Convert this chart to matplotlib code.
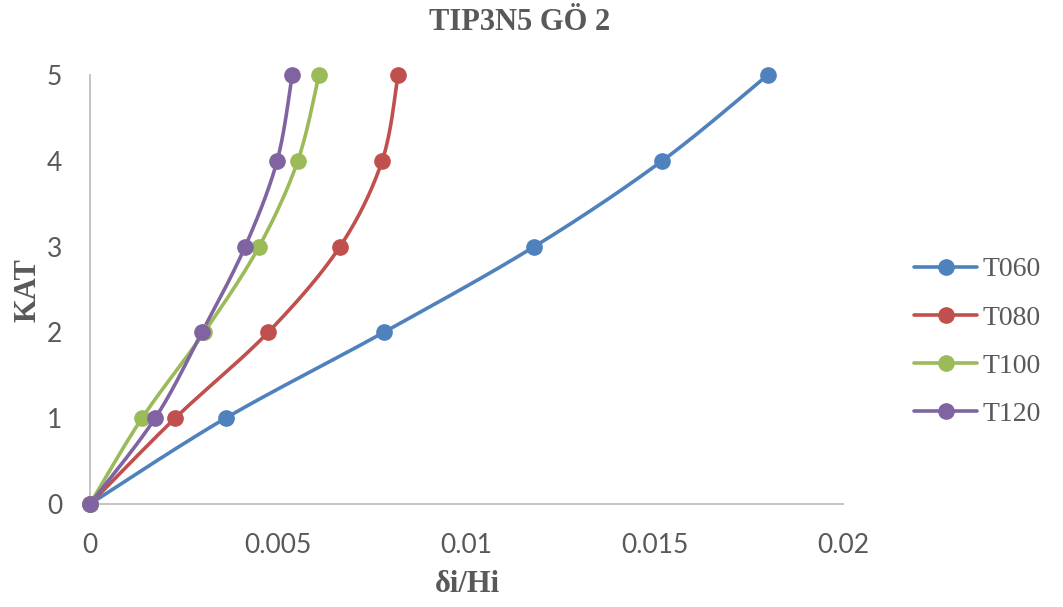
import numpy as np
import matplotlib
matplotlib.use("Agg")
import matplotlib.pyplot as plt
from matplotlib.lines import Line2D

# data
floors = [0, 1, 2, 3, 4, 5]
t060 = [0, 0.0036, 0.0078, 0.0118, 0.0152, 0.0180]
t080 = [0, 0.00226, 0.00473, 0.00664, 0.00776, 0.00818]
t100 = [0, 0.00138, 0.00303, 0.00449, 0.00552, 0.00608]
t120 = [0, 0.00173, 0.00297, 0.00412, 0.00497, 0.00537]
names = ["T060", "T080", "T100", "T120"]
colors = ["#4F81BD", "#C0504D", "#9BBB59", "#8064A2"]

txt_col = "#595959"
serif = ["Liberation Serif", "DejaVu Serif"]


# smooth curve through points like Excel's smoothed line (Catmull-Rom bezier)
def smooth(xs, ys, n=30):
    p = np.column_stack([xs, ys]).astype(float)
    out = [p[0]]
    for i in range(len(p) - 1):
        p0 = p[i - 1] if i > 0 else p[i]
        p1, p2 = p[i], p[i + 1]
        p3 = p[i + 2] if i + 2 < len(p) else p[i + 1]
        c1 = p1 + (p2 - p0) / 6
        c2 = p2 - (p3 - p1) / 6
        t = np.linspace(0, 1, n)[1:, None]
        seg = ((1 - t) ** 3) * p1 + 3 * ((1 - t) ** 2) * t * c1 + 3 * (1 - t) * t ** 2 * c2 + t ** 3 * p2
        out.extend(seg)
    out = np.array(out)
    return out[:, 0], out[:, 1]


fig = plt.figure(figsize=(10.63, 6.07), dpi=100)
ax = fig.add_axes([90 / 1063, 1 - 504 / 607, 753 / 1063, 429 / 607])

handles = []
for vals, name, c in zip([t060, t080, t100, t120], names, colors):
    sx, sy = smooth(vals, floors)
    ax.plot(sx, sy, color=c, lw=2.6, solid_capstyle="round", zorder=2, clip_on=False)
    ax.plot(vals, floors, "o", color=c, ms=11, zorder=3, clip_on=False)
    handles.append(Line2D([], [], color=c, lw=2.6, marker="o", ms=11, solid_capstyle="round"))

ax.set_xlim(0, 0.02)
ax.set_ylim(0, 5)
ax.set_xticks([0, 0.005, 0.01, 0.015, 0.02])
ax.set_xticklabels(["0", "0.005", "0.01", "0.015", "0.02"])
ax.set_yticks(floors)
for s in ["top", "right"]:
    ax.spines[s].set_visible(False)
for s in ["left", "bottom"]:
    ax.spines[s].set_color("#BFBFBF")
    ax.spines[s].set_linewidth(1.3)
ax.tick_params(length=0, labelsize=19, labelcolor=txt_col)
ax.tick_params(axis="y", pad=20)
ax.tick_params(axis="x", pad=21)
for lab in ax.get_xticklabels() + ax.get_yticklabels():
    lab.set_family(["Lato", "DejaVu Sans"])

fig.text(520 / 1063, 1 - 22 / 607, "TIP3N5 GÖ 2", ha="center", va="center",
         family=serif, weight="bold", size=22, color=txt_col)
fig.text(467 / 1063, 1 - 585 / 607, "δi/Hi", ha="center", va="center",
         family=serif, weight="bold", size=22, color=txt_col)
fig.text(28 / 1063, 1 - 290 / 607, "KAT", ha="center", va="center", rotation=90,
         family=serif, weight="bold", size=22, color=txt_col)

leg = fig.legend(handles, names, loc="center left", bbox_to_anchor=(914 / 1063, 1 - 342 / 607),
                 frameon=False, prop={"family": serif, "size": 20}, handlelength=2.27,
                 labelspacing=0.82, handletextpad=0.18, borderpad=0, borderaxespad=0,
                 labelcolor=txt_col)

fig.savefig("out.png", dpi=100)
